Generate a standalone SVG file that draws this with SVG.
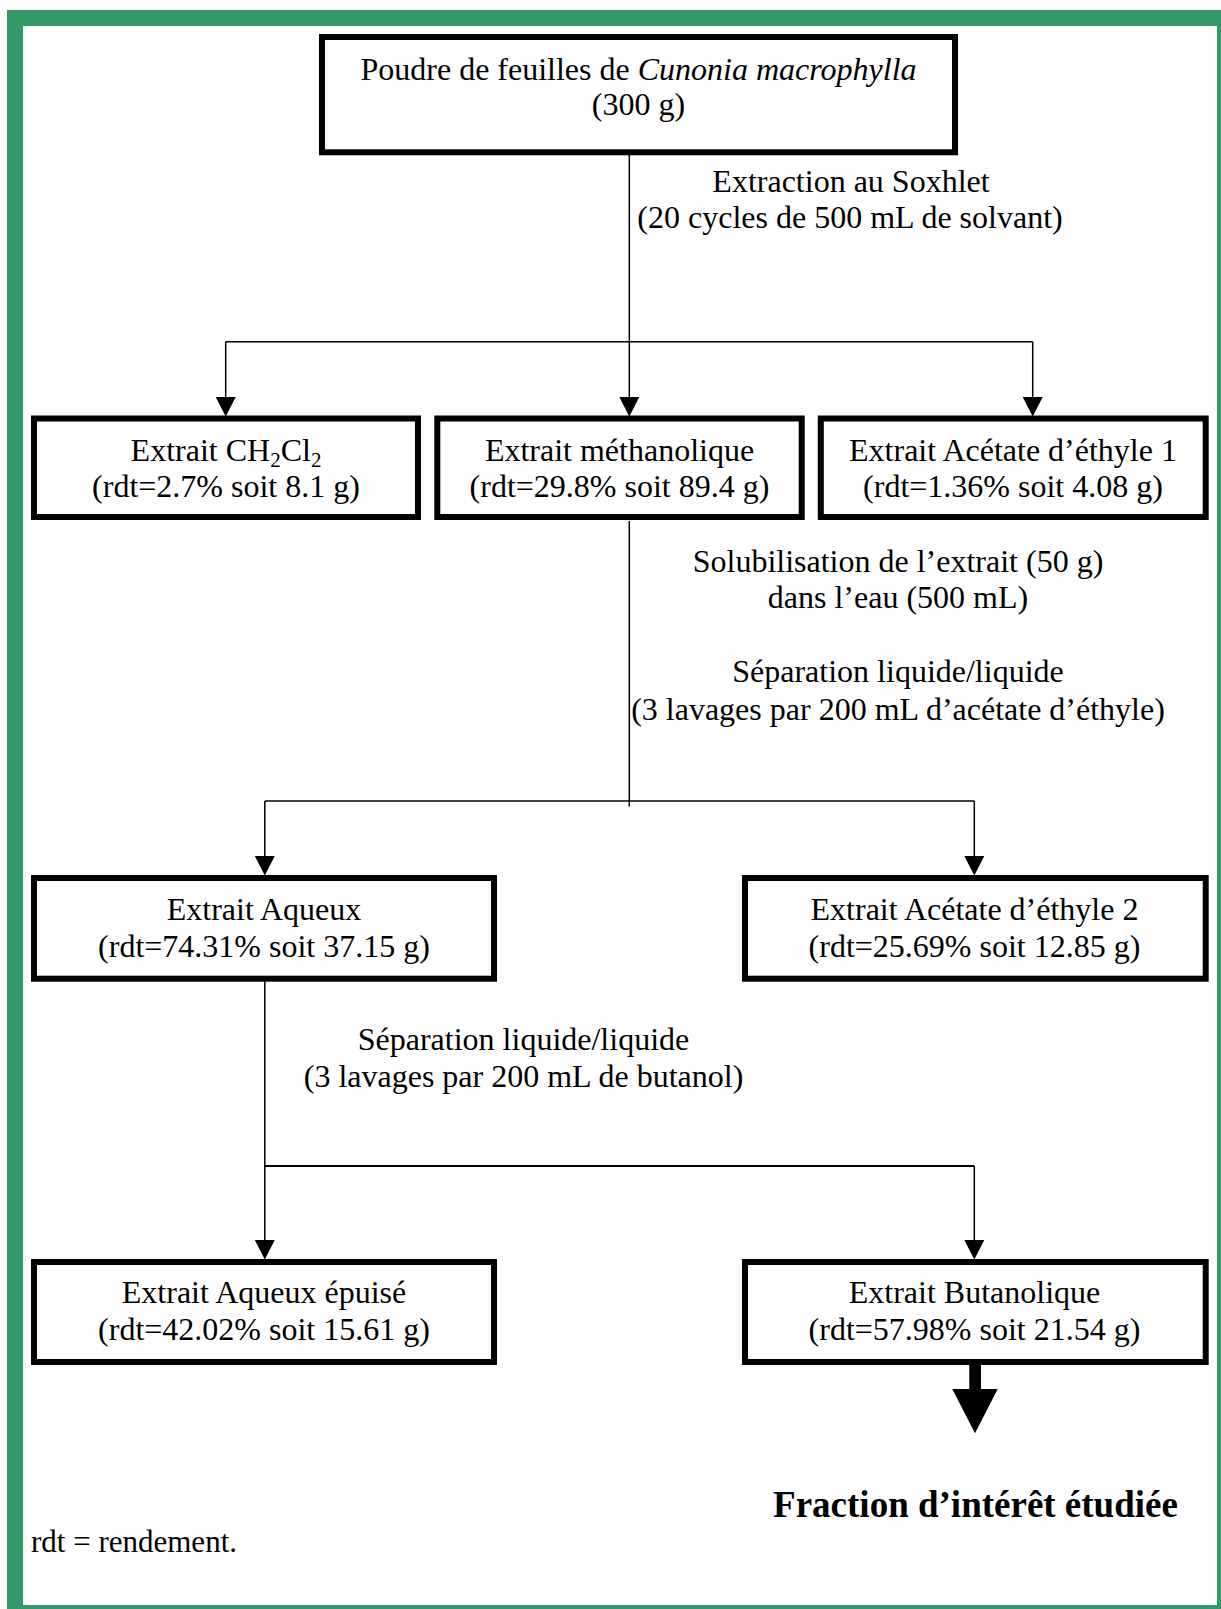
<svg xmlns="http://www.w3.org/2000/svg" width="1221" height="1609" viewBox="0 0 1221 1609">
<style>
text{font-family:"Liberation Serif","Times New Roman",serif;font-size:32px;fill:#000;text-anchor:middle}
.box{fill:#fff;stroke:#000;stroke-width:6}
.ln{stroke:#000;stroke-width:1.5;fill:none}
.ah{fill:#000}
.sub{font-size:21px;baseline-shift:-6px}
</style>
<rect x="0" y="0" width="1221" height="1609" fill="#fff"/>
<path d="M7,10 H1230 V1620 H7 Z M23,26 V1605 H1217 V26 Z" fill="#339966" fill-rule="evenodd"/>

<g id="connectors">
<path class="ln" d="M629.3,155 V397"/>
<path class="ln" d="M225.7,341.7 H1032.7"/>
<path class="ln" d="M225.7,341.7 V397"/>
<path class="ln" d="M1032.7,341.7 V397"/>
<polygon class="ah" points="619.3,397 639.3,397 629.3,416.5"/>
<polygon class="ah" points="215.7,397 235.7,397 225.7,416.5"/>
<polygon class="ah" points="1022.7,397 1042.7,397 1032.7,416.5"/>

<path class="ln" d="M629.3,521 V806.5"/>
<path class="ln" d="M264.8,801 H974.3"/>
<path class="ln" d="M264.8,801 V856"/>
<path class="ln" d="M974.3,801 V856"/>
<polygon class="ah" points="254.8,856 274.8,856 264.8,875.5"/>
<polygon class="ah" points="964.3,856 984.3,856 974.3,875.5"/>

<path class="ln" d="M264.8,973 V1166"/>
<path class="ln" d="M264.8,1166 H974.3" style="stroke-width:2"/>
<path class="ln" d="M264.8,1166 V1240"/>
<path class="ln" d="M974.3,1166 V1240"/>
<polygon class="ah" points="254.8,1240 274.8,1240 264.8,1259.5"/>
<polygon class="ah" points="964.3,1240 984.3,1240 974.3,1259.5"/>

<rect x="969.3" y="1358" width="11.7" height="32" fill="#000"/>
<polygon class="ah" points="952.3,1389 997.7,1389 975,1433.3"/>
</g>

<g id="n_poudre">
<rect class="box" x="322" y="37" width="633" height="115.3"/>
<text x="638.5" y="80">Poudre de feuilles de <tspan font-style="italic">Cunonia macrophylla</tspan></text>
<text x="638.5" y="115">(300 g)</text>
</g>

<g id="lbl_soxhlet">
<text x="851" y="191.7">Extraction au Soxhlet</text>
<text x="850" y="228">(20 cycles de 500 mL de solvant)</text>
</g>

<g id="n_ch2cl2">
<rect class="box" x="34" y="418.5" width="384" height="98.5"/>
<text x="226" y="460.7">Extrait CH<tspan class="sub">2</tspan>Cl<tspan class="sub">2</tspan></text>
<text x="226" y="496.7">(rdt=2.7% soit 8.1 g)</text>
</g>

<g id="n_methanol">
<rect class="box" x="437.3" y="418.5" width="364.4" height="98.5"/>
<text x="619.5" y="460.7">Extrait méthanolique</text>
<text x="619.5" y="496.7">(rdt=29.8% soit 89.4 g)</text>
</g>

<g id="n_acetate1">
<rect class="box" x="820.8" y="418.5" width="384.9" height="98.5"/>
<text x="1013" y="460.7">Extrait Acétate d’éthyle 1</text>
<text x="1013" y="496.7">(rdt=1.36% soit 4.08 g)</text>
</g>

<g id="lbl_solub">
<text x="898" y="571.7">Solubilisation de l’extrait (50 g)</text>
<text x="898" y="608.3">dans l’eau (500 mL)</text>
<text x="898" y="681.7">Séparation liquide/liquide</text>
<text x="898" y="720">(3 lavages par 200 mL d’acétate d’éthyle)</text>
</g>

<g id="n_aqueux">
<rect class="box" x="34" y="878" width="460" height="100.7"/>
<text x="264" y="920">Extrait Aqueux</text>
<text x="264" y="956.7">(rdt=74.31% soit 37.15 g)</text>
</g>

<g id="n_acetate2">
<rect class="box" x="745" y="878" width="460.7" height="100.7"/>
<text x="974.5" y="920">Extrait Acétate d’éthyle 2</text>
<text x="974.5" y="956.7">(rdt=25.69% soit 12.85 g)</text>
</g>

<g id="lbl_butanol">
<text x="523.5" y="1050">Séparation liquide/liquide</text>
<text x="523.5" y="1086.7">(3 lavages par 200 mL de butanol)</text>
</g>

<g id="n_epuise">
<rect class="box" x="34" y="1262" width="460" height="100"/>
<text x="264" y="1303.3">Extrait Aqueux épuisé</text>
<text x="264" y="1340">(rdt=42.02% soit 15.61 g)</text>
</g>

<g id="n_butanolique">
<rect class="box" x="745" y="1262" width="460.7" height="100"/>
<text x="974.5" y="1303.3">Extrait Butanolique</text>
<text x="974.5" y="1340">(rdt=57.98% soit 21.54 g)</text>
</g>

<g id="lbl_fraction">
<text x="975.5" y="1516.7" style="font-weight:bold;font-size:37px">Fraction d’intérêt étudiée</text>
</g>

<g id="lbl_rdt">
<text x="31" y="1551.7" style="text-anchor:start;font-size:31px">rdt = rendement.</text>
</g>
</svg>
